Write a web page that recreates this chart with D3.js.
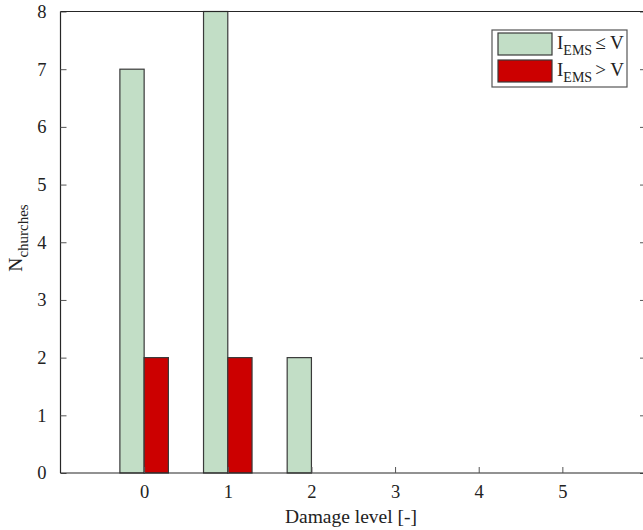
<!DOCTYPE html>
<html>
<head>
<meta charset="utf-8">
<script src="https://cdn.jsdelivr.net/npm/d3@7/dist/d3.min.js"></script>
<style>
  html, body { margin: 0; padding: 0; background: #fff; }
  svg { display: block; font-family: "Liberation Serif", "Times New Roman", serif; }
</style>
</head>
<body>
<svg id="chart" width="643" height="530"></svg>
<script>
// Number of churches per damage level, split by EMS intensity vs. vulnerability
const damageLevels = [0, 1, 2, 3, 4, 5];
const lowIntensity = [7, 8, 2, 0, 0, 0];   // I_EMS <= V
const highIntensity = [2, 2, 0, 0, 0, 0];  // I_EMS > V
const yTicks = [0, 1, 2, 3, 4, 5, 6, 7, 8];
const seriesNames = ["≤ V", "> V"];
const seriesColors = ["#c2dec6", "#cc0000"];

const svg = d3.select("#chart");
const margin = { left: 60.5, top: 11.5, right: 646, bottom: 473 };
const serif = "'Liberation Serif', 'Times New Roman', serif";

const x = d3.scaleLinear().domain([-1, 6]).range([margin.left, margin.right]);
const y = d3.scaleLinear().domain([0, 8]).range([margin.bottom, margin.top]);
const barW = x(0.29) - x(0);
const axisColor = "#262626";

// bars
const series = [lowIntensity, highIntensity];
series.forEach((vals, si) => {
  svg.append("g").selectAll("rect")
    .data(damageLevels.map((d, i) => ({ d, v: vals[i] })).filter(e => e.v > 0))
    .join("rect")
    .attr("x", e => si === 0 ? x(e.d) - barW : x(e.d))
    .attr("y", e => y(e.v))
    .attr("width", barW)
    .attr("height", e => y(0) - y(e.v))
    .attr("fill", seriesColors[si])
    .attr("stroke", "#3a3a3a")
    .attr("stroke-width", 1.2);
});

// axes (ticks pointing inward)
const yAxis = d3.axisLeft(y).tickValues(yTicks).tickSize(-6).tickPadding(14).tickFormat(d3.format("d"));
const yAxisR = d3.axisRight(y).tickValues(yTicks).tickSize(-6).tickFormat("");
const xAxis = d3.axisBottom(x).tickValues(damageLevels).tickSize(-6).tickPadding(12).tickFormat(d3.format("d"));

function style(g) {
  g.attr("font-family", serif).attr("font-size", 18.5);
  g.select(".domain").attr("stroke", axisColor).attr("stroke-width", 1.2);
  g.selectAll(".tick line").attr("stroke", "#555").attr("stroke-width", 1);
  g.selectAll(".tick text").attr("fill", "#222").attr("font-size", 18.5);
}
svg.append("g").attr("transform", `translate(${margin.left},0)`).call(yAxis).call(style)
  .call(g => g.select(".domain").attr("d", `M0,${margin.top}V${margin.bottom}`));
svg.append("g").attr("transform", `translate(${margin.right},0)`).call(yAxisR).call(style)
  .call(g => g.select(".domain").attr("d", `M0,${margin.top}V${margin.bottom}`));
svg.append("g").attr("transform", `translate(0,${margin.bottom})`).call(xAxis).call(style)
  .call(g => g.select(".domain").attr("d", `M${margin.left},0H${margin.right}`));
svg.append("line")
  .attr("x1", margin.left).attr("x2", margin.right)
  .attr("y1", margin.top).attr("y2", margin.top)
  .attr("stroke", axisColor).attr("stroke-width", 1.2);

// axis titles
svg.append("text")
  .attr("x", 351).attr("y", 523)
  .attr("text-anchor", "middle").attr("font-size", 19.5).attr("fill", "#222")
  .attr("font-family", serif)
  .text("Damage level [-]");

const yt = svg.append("text")
  .attr("transform", "translate(22,238) rotate(-90)")
  .attr("text-anchor", "middle").attr("font-size", 19.5).attr("fill", "#222")
  .attr("font-family", serif);
yt.append("tspan").text("N");
yt.append("tspan").attr("font-size", 15).attr("dy", 6).text("churches");

// legend
const lg = svg.append("g").attr("transform", "translate(492,30)").attr("font-family", serif);
lg.append("rect").attr("width", 135).attr("height", 57)
  .attr("fill", "#fff").attr("stroke", "#555").attr("stroke-width", 1.2);
seriesNames.forEach((name, i) => {
  const row = lg.append("g").attr("transform", `translate(6,${3 + i * 27})`);
  row.append("rect").attr("width", 54).attr("height", 22)
    .attr("fill", seriesColors[i]).attr("stroke", "#3a3a3a").attr("stroke-width", 1.2);
  const t = row.append("text").attr("x", 59).attr("y", 16).attr("font-size", 19).attr("fill", "#222");
  t.append("tspan").text("I");
  t.append("tspan").attr("font-size", 14).attr("dy", 6).text("EMS");
  t.append("tspan").attr("dy", -6).attr("dx", 3).text(name);
});
</script>
</body>
</html>
